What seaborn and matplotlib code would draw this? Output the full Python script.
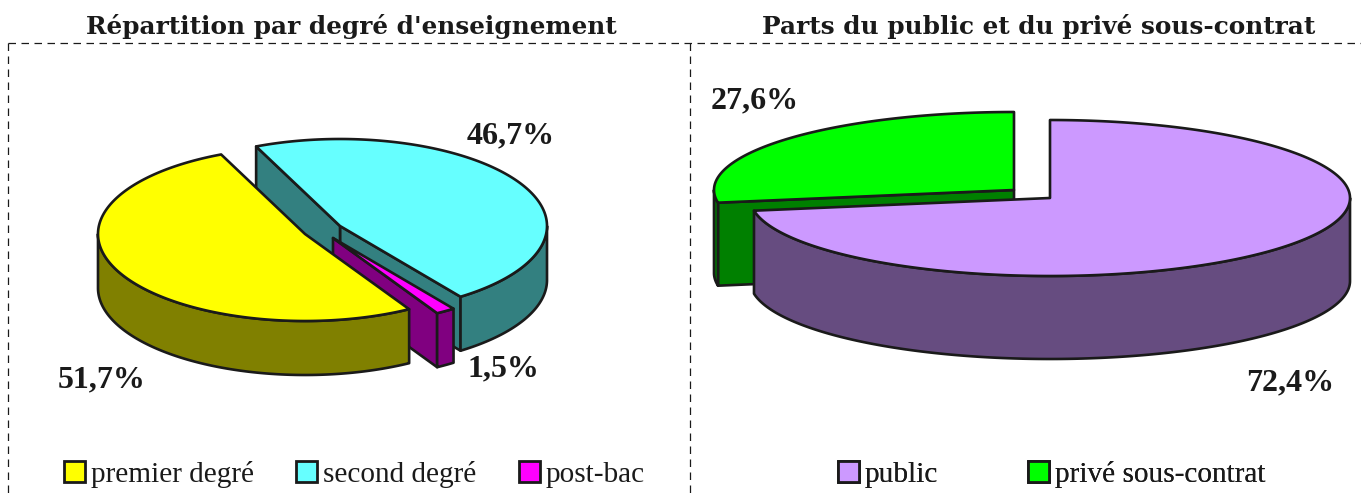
import matplotlib
matplotlib.use("Agg")
import matplotlib.pyplot as plt
import numpy as np
import seaborn as sns
from matplotlib.patches import Patch, Polygon

degree_labels = ["premier degré", "post-bac", "second degré"]
degree_values = [51.7, 1.5, 46.7]
degree_colors = ["#FFFF00", "#FF00FF", "#66FFFF"]
degree_sides = ["#808000", "#800080", "#338080"]

sector_labels = ["privé sous-contrat", "public"]
sector_values = [27.6, 72.4]
sector_colors = ["#00FF00", "#CC99FF"]
sector_sides = ["#008000", "#664C80"]

W, H = 1361, 497
LW = 1.9


def arc(cx, cy, rx, ry, a0, a1):
    t = np.radians(np.linspace(a0, a1, max(int(abs(a1 - a0)) * 2, 4)))
    return np.column_stack([cx + rx * np.cos(t), cy - ry * np.sin(t)])


def draw_slice(ax, c, rx, ry, depth, a0, a1, color, side):
    cx, cy = c
    down = np.array([0, depth])
    pts = arc(cx, cy, rx, ry, a0, a1)
    apex = np.array([cx, cy])
    # radial walls, only when they face the viewer
    for p, normal in ((pts[0], a0 - 90), (pts[-1], a1 + 90)):
        if np.sin(np.radians(normal)) < -1e-6:
            ax.add_patch(Polygon([apex, p, p + down, apex + down], fc=side, ec="k", lw=LW, joinstyle="round"))
    # outer wall, only the part in front
    for lo, hi in ((180, 360), (540, 720)):
        s, e = max(a0, lo), min(a1, hi)
        if e > s:
            front = arc(cx, cy, rx, ry, s, e)
            ax.add_patch(Polygon(np.vstack([front, (front + down)[::-1]]), fc=side, ec="k", lw=LW, joinstyle="round"))
    ax.add_patch(Polygon(np.vstack([apex, pts]), fc=color, ec="k", lw=LW, joinstyle="round"))


def draw_pie(ax, values, colors, sides, start, centers, rx, ry, depth, order):
    values = np.array(values)
    spans = values / values.sum() * 360
    edges = start + np.concatenate([[0], np.cumsum(spans)])
    for i in order:
        draw_slice(ax, centers[i], rx, ry, depth, edges[i], edges[i + 1], colors[i], sides[i])


def pct(v):
    return f"{v:.1f}%".replace(".", ",")


sns.set_theme(style="white")
plt.rcParams["font.family"] = ["Liberation Serif", "DejaVu Serif"]
plt.rcParams["text.color"] = "k"

fig = plt.figure(figsize=(W / 100, H / 100), dpi=100)
ax = fig.add_axes([0, 0, 1, 1])
ax.set_xlim(0, W)
ax.set_ylim(H, 0)
ax.axis("off")

# dashed frame
dash = dict(color="k", lw=0.9, ls=(0, (6, 4.4)))
ax.plot([8, W], [43, 43], **dash)
ax.plot([8, 8], [43, H], **dash)
ax.plot([690, 690], [43, H], **dash)

draw_pie(ax, degree_values, degree_colors, degree_sides, 113.9,
         [(305, 234), (333, 238), (340, 226)], 207, 87, 54, [2, 1, 0])
draw_pie(ax, sector_values, sector_colors, sector_sides, 90,
         [(1014, 190), (1050, 198)], 300, 78, 83, [0, 1])

title = dict(family="DejaVu Serif", weight="bold", fontsize=17.8, ha="center", va="baseline", color="k")
ax.text(351, 34, "Répartition par degré d'enseignement", **title)
ax.text(1039, 34, "Parts du public et du privé sous-contrat", **title)

lab = dict(weight="bold", fontsize=23, ha="center", va="center", color="k")
ax.text(102, 380, pct(degree_values[0]), **lab)
ax.text(503, 369, pct(degree_values[1]), **lab)
ax.text(511, 136, pct(degree_values[2]), **lab)
ax.text(755, 101, pct(sector_values[0]), **lab)
ax.text(1290, 383, pct(sector_values[1]), **lab)


def legend(labels, colors, anchor, spacing):
    handles = [Patch(fc=c, ec="k", lw=2, label=l) for l, c in zip(labels, colors)]
    leg = ax.legend(handles=handles, ncol=len(handles), loc="center left", bbox_to_anchor=anchor,
                    bbox_transform=ax.transData, frameon=False, fontsize=21.1, handlelength=0.72,
                    handleheight=0.72, handletextpad=0.2, columnspacing=spacing, borderpad=0, borderaxespad=0)
    ax.add_artist(leg)


legend([degree_labels[0], degree_labels[2], degree_labels[1]],
       [degree_colors[0], degree_colors[2], degree_colors[1]], (64, 474), 1.44)
legend([sector_labels[1], sector_labels[0]], [sector_colors[1], sector_colors[0]], (838, 474), 3.07)

fig.savefig("out.png", dpi=100)
